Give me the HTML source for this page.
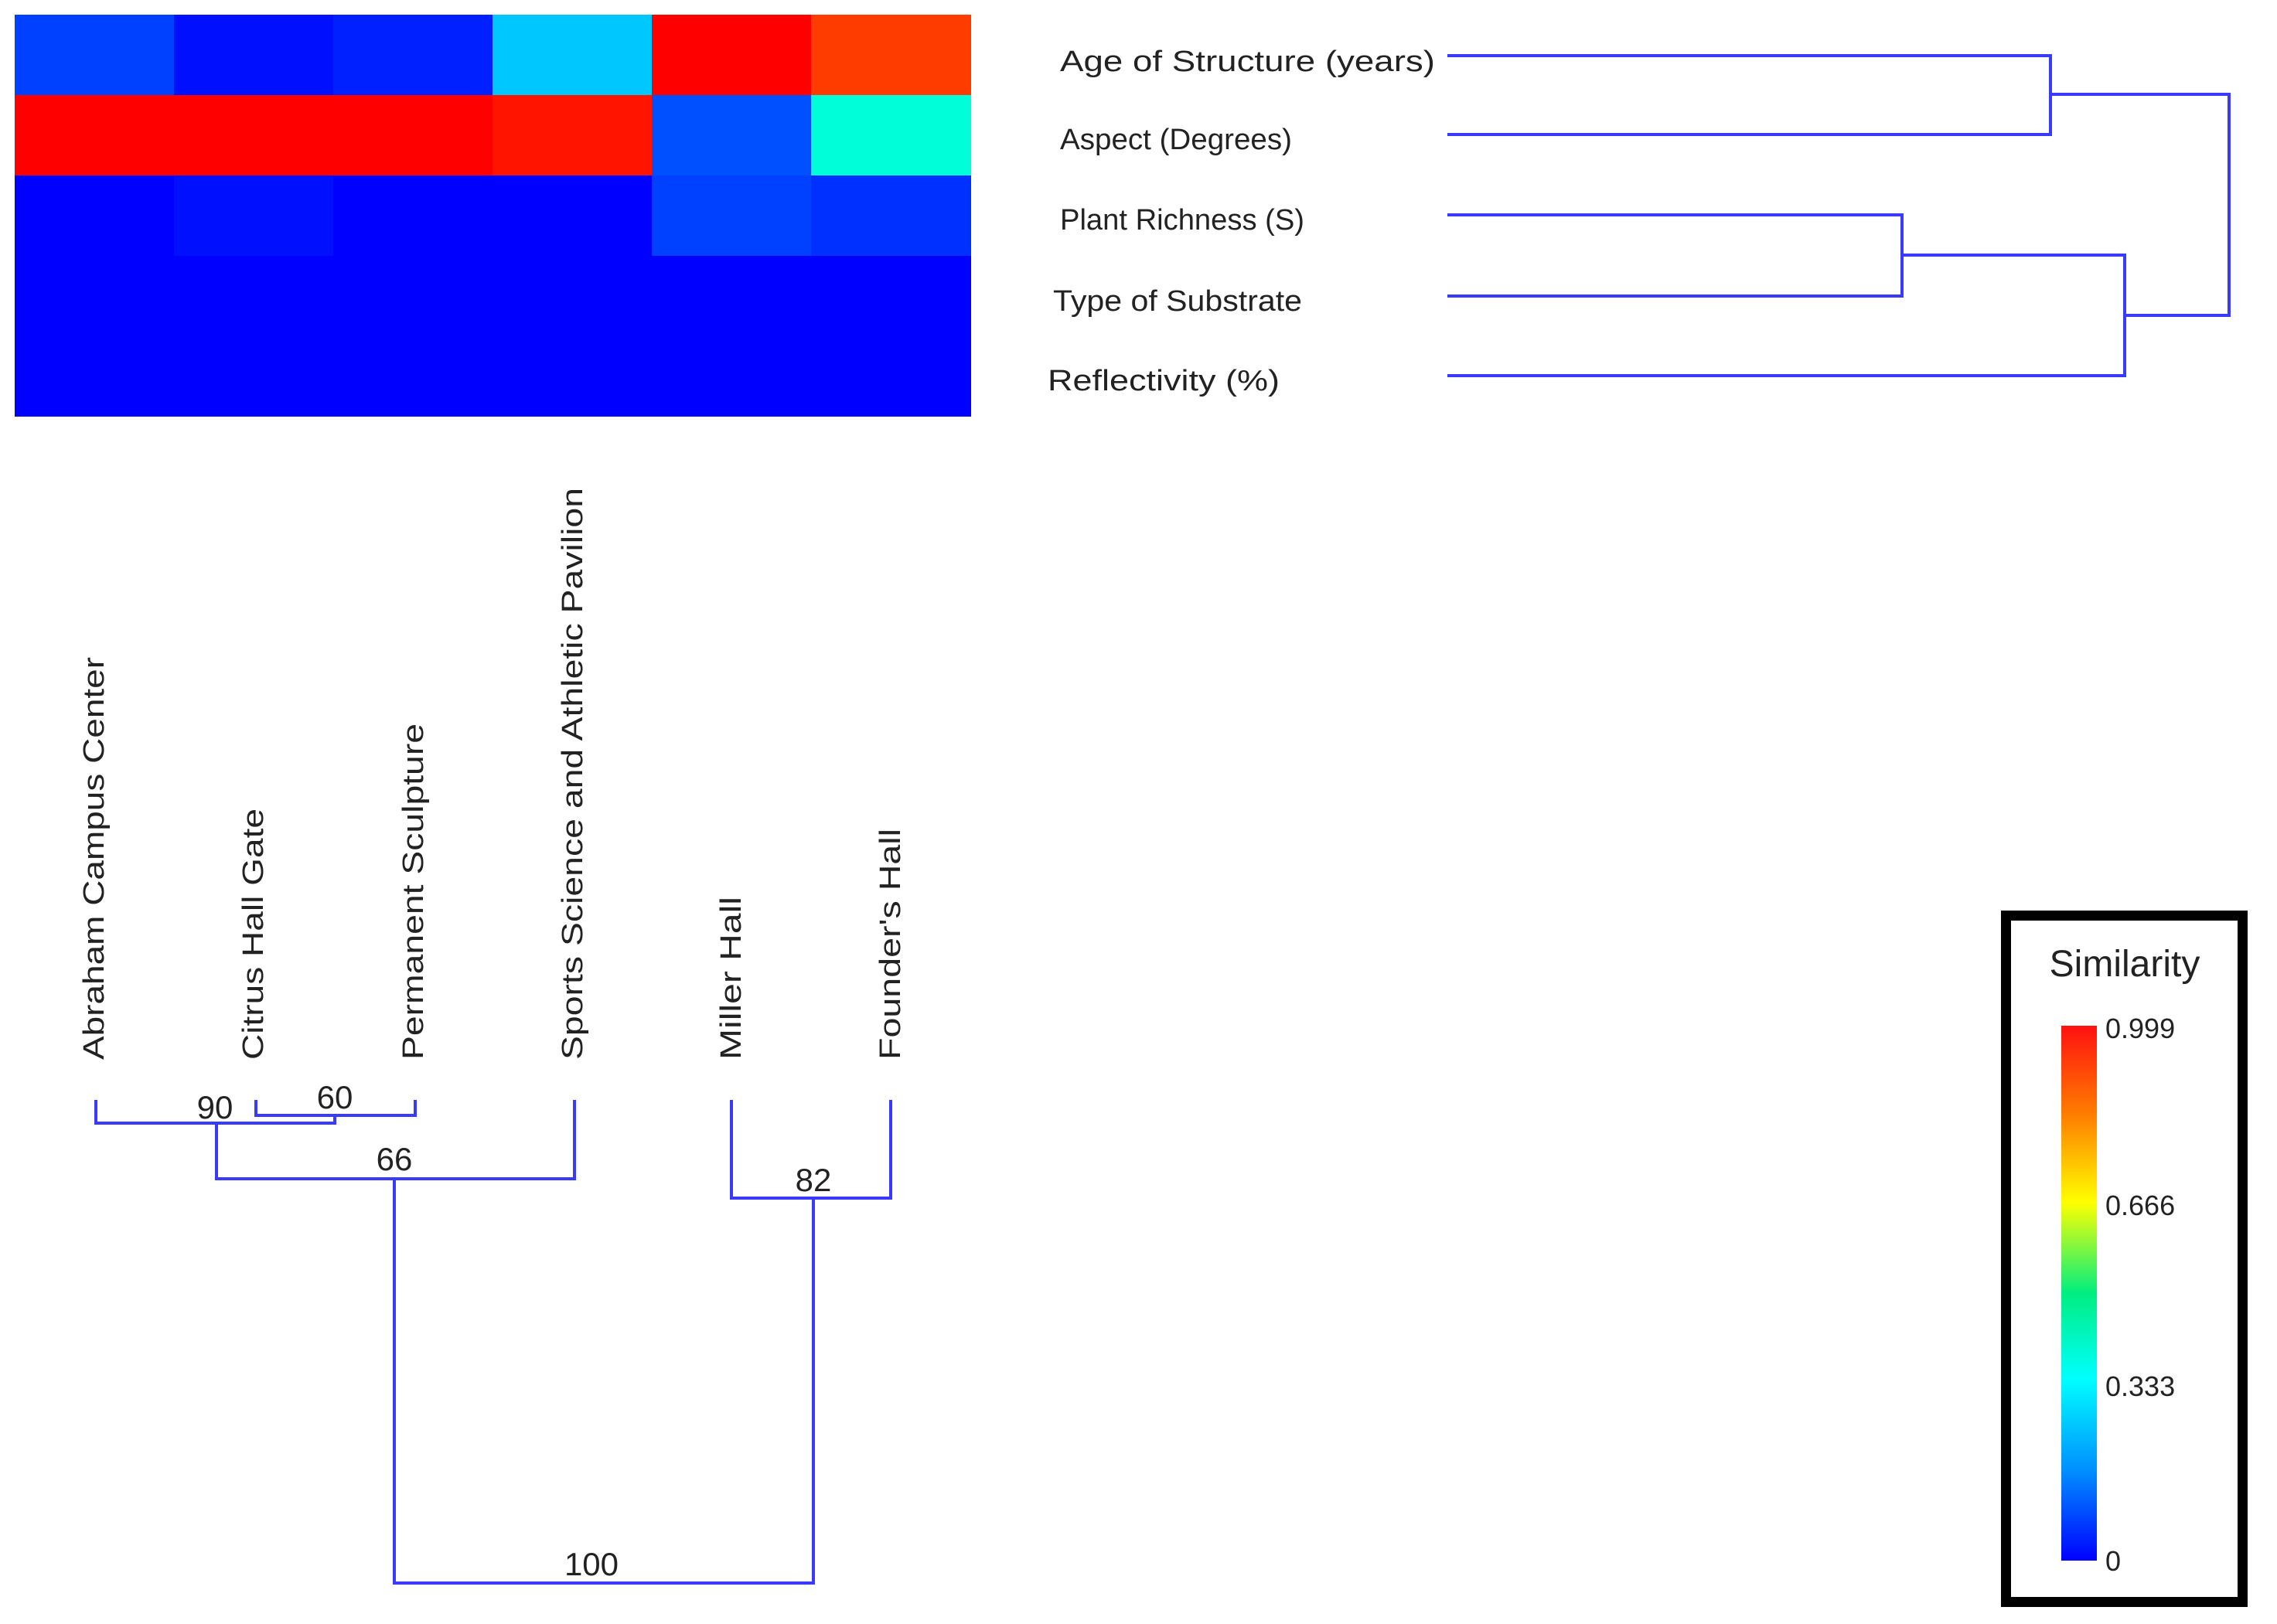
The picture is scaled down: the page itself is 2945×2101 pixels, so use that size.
<!DOCTYPE html>
<html><head><meta charset="utf-8"><style>
html,body{margin:0;padding:0;background:#fff;}
svg{display:block;}
text{font-family:"Liberation Sans","DejaVu Sans",sans-serif;fill:#222;}
</style></head><body>
<svg width="2945" height="2101" viewBox="0 0 2945 2101" xmlns="http://www.w3.org/2000/svg">
<defs>
<linearGradient id="g" x1="0" y1="0" x2="0" y2="1">
<stop offset="0" stop-color="#ff1010"/>
<stop offset="0.17" stop-color="#ff8000"/>
<stop offset="0.33" stop-color="#ffff00"/>
<stop offset="0.5" stop-color="#00ee80"/>
<stop offset="0.66" stop-color="#00ffff"/>
<stop offset="0.83" stop-color="#0090ff"/>
<stop offset="1" stop-color="#0000ff"/>
</linearGradient>
</defs>
<g shape-rendering="crispEdges">
<rect x="19" y="19" width="207" height="105" fill="#0040ff"/>
<rect x="225" y="19" width="207" height="105" fill="#0010ff"/>
<rect x="431" y="19" width="207" height="105" fill="#0020ff"/>
<rect x="637" y="19" width="207" height="105" fill="#00c8ff"/>
<rect x="843" y="19" width="207" height="105" fill="#ff0000"/>
<rect x="1049" y="19" width="207" height="105" fill="#ff3c00"/>
<rect x="19" y="123" width="207" height="105" fill="#ff0000"/>
<rect x="225" y="123" width="207" height="105" fill="#ff0000"/>
<rect x="431" y="123" width="207" height="105" fill="#ff0000"/>
<rect x="637" y="123" width="207" height="105" fill="#ff1400"/>
<rect x="843" y="123" width="207" height="105" fill="#0050ff"/>
<rect x="1049" y="123" width="207" height="105" fill="#00ffd8"/>
<rect x="19" y="227" width="207" height="105" fill="#0000ff"/>
<rect x="225" y="227" width="207" height="105" fill="#0010ff"/>
<rect x="431" y="227" width="207" height="105" fill="#0000ff"/>
<rect x="637" y="227" width="207" height="105" fill="#0000ff"/>
<rect x="843" y="227" width="207" height="105" fill="#0040ff"/>
<rect x="1049" y="227" width="207" height="105" fill="#0030ff"/>
<rect x="19" y="331" width="1237" height="208" fill="#0000ff"/>
</g>
<g font-size="38">
<text x="1371" y="92" textLength="485" lengthAdjust="spacingAndGlyphs">Age of Structure (years)</text>
<text x="1371" y="193" textLength="300" lengthAdjust="spacingAndGlyphs">Aspect (Degrees)</text>
<text x="1371" y="297" textLength="316" lengthAdjust="spacingAndGlyphs">Plant Richness (S)</text>
<text x="1362" y="402" textLength="322" lengthAdjust="spacingAndGlyphs">Type of Substrate</text>
<text x="1355" y="505" textLength="300" lengthAdjust="spacingAndGlyphs">Reflectivity (%)</text>
</g>
<g stroke="#3a3aff" stroke-width="4" fill="none">
<polyline points="1872,72 2652,72 2652,174 1872,174"/>
<polyline points="1872,278 2460,278 2460,383 1872,383"/>
<polyline points="2460,330 2748,330 2748,486 1872,486"/>
<polyline points="2652,122 2883,122 2883,408 2748,408"/>
</g>
<g font-size="38">
<text transform="translate(134,1371) rotate(-90)" textLength="521" lengthAdjust="spacingAndGlyphs">Abraham Campus Center</text>
<text transform="translate(340,1371) rotate(-90)" textLength="325" lengthAdjust="spacingAndGlyphs">Citrus Hall Gate</text>
<text transform="translate(547,1371) rotate(-90)" textLength="435" lengthAdjust="spacingAndGlyphs">Permanent Sculpture</text>
<text transform="translate(753,1371) rotate(-90)" textLength="740" lengthAdjust="spacingAndGlyphs">Sports Science and Athletic Pavilion</text>
<text transform="translate(958,1371) rotate(-90)" textLength="211" lengthAdjust="spacingAndGlyphs">Miller Hall</text>
<text transform="translate(1164,1371) rotate(-90)" textLength="299" lengthAdjust="spacingAndGlyphs">Founder's Hall</text>
</g>
<g stroke="#3a3aff" stroke-width="4" fill="none">
<polyline points="331,1423 331,1443 537,1443 537,1423"/>
<polyline points="124,1423 124,1453 433,1453 433,1443"/>
<polyline points="280,1453 280,1525 743,1525 743,1423"/>
<polyline points="946,1423 946,1550 1152,1550 1152,1423"/>
<polyline points="510,1525 510,2048 1052,2048 1052,1550"/>
</g>
<g font-size="42" text-anchor="middle">
<text x="278" y="1447">90</text>
<text x="433" y="1434">60</text>
<text x="510" y="1514">66</text>
<text x="1052" y="1541">82</text>
<text x="765" y="2038">100</text>
</g>
<rect x="2594.5" y="1184.5" width="306" height="888" fill="#fff" stroke="#000" stroke-width="13"/>
<text x="2748" y="1263" font-size="48" text-anchor="middle">Similarity</text>
<rect x="2666" y="1327" width="46" height="692" fill="url(#g)"/>
<g font-size="36">
<text x="2723" y="1343">0.999</text>
<text x="2723" y="1572">0.666</text>
<text x="2723" y="1806">0.333</text>
<text x="2723" y="2032">0</text>
</g>
</svg>
</body></html>
